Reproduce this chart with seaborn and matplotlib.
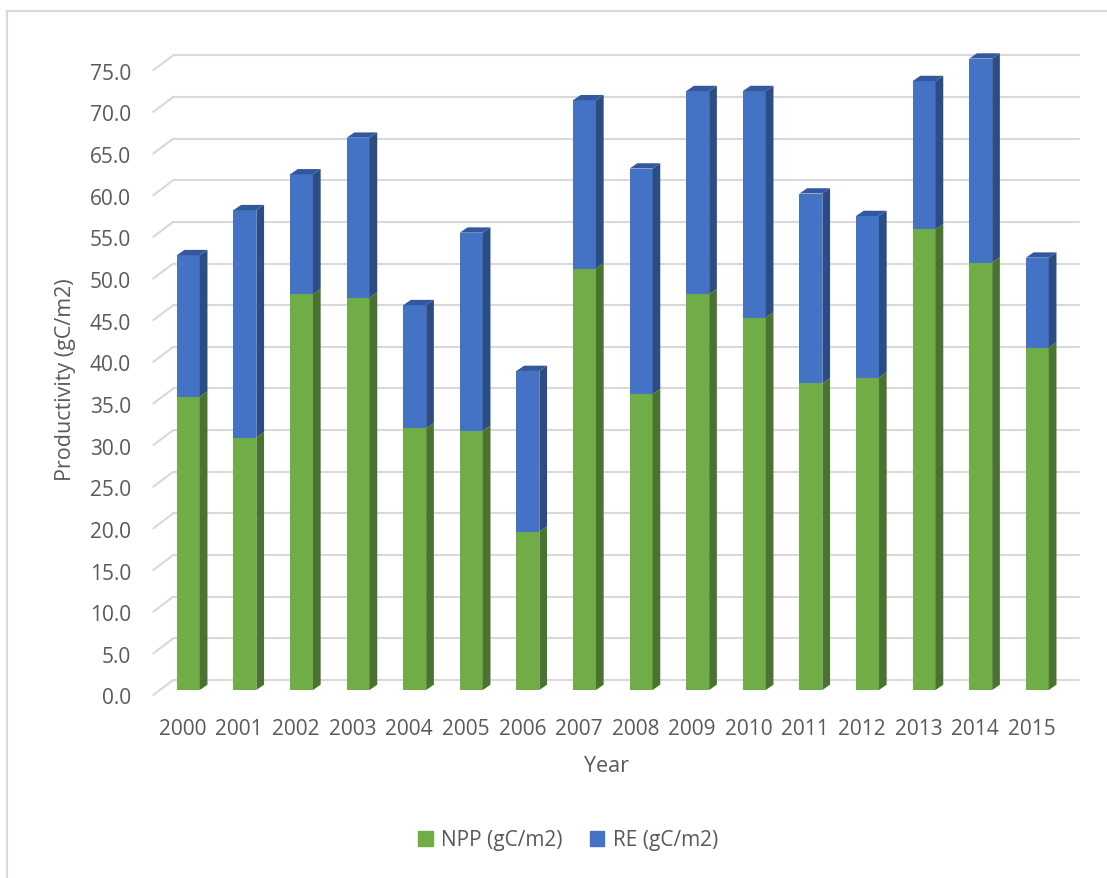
import seaborn as sns
import matplotlib.pyplot as plt
from matplotlib.patches import Polygon, Rectangle, Patch
from matplotlib.transforms import ScaledTranslation, blended_transform_factory

# datos
years = [str(y) for y in range(2000, 2016)]
npp = [35.2, 30.3, 47.5, 47.1, 31.4, 31.1, 19.0, 50.6, 35.5, 47.5, 44.7, 36.8, 37.5, 55.3, 51.3, 41.1]
re_vals = [17.0, 27.3, 14.4, 19.2, 14.8, 23.8, 19.3, 20.2, 27.1, 24.4, 27.2, 22.8, 19.4, 17.8, 24.5, 10.8]
yticks = [0, 5, 10, 15, 20, 25, 30, 35, 40, 45, 50, 55, 60, 65, 70, 75]

total = [a + b for a, b in zip(npp, re_vals)]

GREEN, GREEN_SIDE = '#70AD47', '#4A7230'
BLUE, BLUE_SIDE, BLUE_TOP = '#4472C4', '#2C4C84', '#33599C'
GRID = '#D9D9D9'
TXT = '#595959'

sns.set_style('white')
plt.rcParams['font.family'] = ['Open Sans', 'DejaVu Sans']

W, H = 1107, 879
fig = plt.figure(figsize=(W / 100, H / 100), dpi=100)
ax_w, ax_h = 905.6, 77 * 8.33
ax = fig.add_axes([160 / W, 188 / H, ax_w / W, ax_h / H])

bar_w = 0.405
sns.barplot(x=years, y=total, color=BLUE, width=bar_w, saturation=1,
            errorbar=None, linewidth=0, ax=ax, zorder=3)
sns.barplot(x=years, y=npp, color=GREEN, width=bar_w, saturation=1,
            errorbar=None, linewidth=0, ax=ax, zorder=4)

ax.set_xlim(-0.5, 15.5)
ax.set_ylim(0, 77)

# efecto 3D: caras laterales y superiores
dx = 7.7 * 16 / ax_w
dy = 5.3 * 77 / ax_h
for i in range(len(years)):
    x0, x1 = i - bar_w / 2, i + bar_w / 2
    n, t = npp[i], total[i]
    ax.add_patch(Polygon([(x1, 0), (x1 + dx, dy), (x1 + dx, n + dy), (x1, n)],
                         closed=True, color=GREEN_SIDE, lw=0, zorder=4))
    ax.add_patch(Polygon([(x1, n), (x1 + dx, n + dy), (x1 + dx, t + dy), (x1, t)],
                         closed=True, color=BLUE_SIDE, lw=0, zorder=3))
    ax.add_patch(Polygon([(x0, t), (x0 + dx, t + dy), (x1 + dx, t + dy), (x1, t)],
                         closed=True, color=BLUE_TOP, lw=0, zorder=3, clip_on=False))

# paredes de fondo (rejilla desplazada)
blend = blended_transform_factory(ax.transAxes, ax.transData)
back = blend + ScaledTranslation(13.3 / 100, 10 / 100, fig.dpi_scale_trans)
for v in yticks:
    ax.plot([0, 1.0], [v, v], color=GRID, lw=1.5, transform=back, zorder=1, clip_on=False)
    ax.plot([-20 / ax_w, 0], [v - 15 / 8.33, v], color=GRID, lw=1.5,
            transform=back, zorder=1, clip_on=False)

ax.set_yticks(yticks)
ax.set_yticklabels([f'{v:.1f}' for v in yticks])
ax.tick_params(axis='y', length=0, pad=21, labelsize=15, labelcolor=TXT)
ax.tick_params(axis='x', length=0, pad=20, labelsize=15, labelcolor=TXT)
for lab in ax.get_yticklabels():
    lab.set_transform(lab.get_transform() + ScaledTranslation(0, -5.5 / 100, fig.dpi_scale_trans))
for lab in ax.get_xticklabels():
    lab.set_transform(lab.get_transform() + ScaledTranslation(-5.6 / 100, 0, fig.dpi_scale_trans))
ax.set_xlabel('')
ax.set_ylabel('')
sns.despine(ax=ax, left=True, bottom=True)
ax.grid(False)

fig.text(66 / W, 1 - 380 / H, 'Productivity (gC/m2)', rotation=90, ha='center', va='center',
         fontsize=15.5, color=TXT)
fig.text(607 / W, 1 - 767 / H, 'Year', ha='center', va='center', fontsize=15.5, color=TXT)

handles = [Patch(color=GREEN, label='NPP (gC/m2)'), Patch(color=BLUE, label='RE (gC/m2)')]
leg = fig.legend(handles=handles, loc='center', bbox_to_anchor=(568 / W, 1 - 841 / H), ncol=2,
                 frameon=False, fontsize=15, handlelength=0.7, handleheight=0.7,
                 handletextpad=0.4, columnspacing=1.3)
for t in leg.get_texts():
    t.set_color(TXT)

fig.patches.append(Rectangle((7 / W, -0.1), 1.2, 1.1 - 12 / H, transform=fig.transFigure,
                             fill=False, edgecolor=GRID, lw=1.5))

plt.savefig('out.png', dpi=100)
